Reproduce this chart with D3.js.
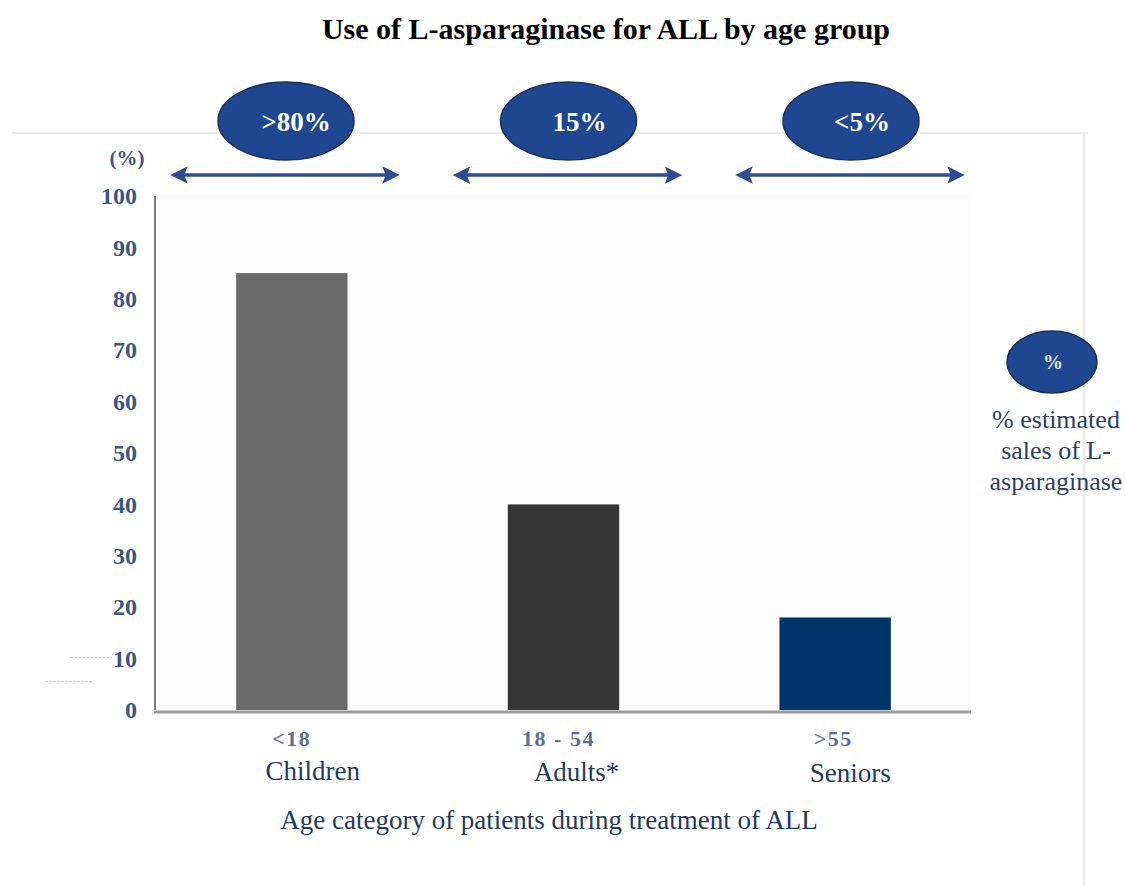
<!DOCTYPE html>
<html>
<head>
<meta charset="utf-8">
<script src="https://cdn.jsdelivr.net/npm/d3@7"></script>
<style>
  html, body { margin: 0; padding: 0; background: #fff; }
  svg { display: block; }
  svg text { font-family: "Liberation Serif", "Times New Roman", serif; }
</style>
</head>
<body>
<div id="chart"></div>
<script>
// data
const categories = ['Children', 'Adults*', 'Seniors'];
const ageRanges = ['<18', '18 - 54', '>55'];
const values = [85, 40, 18];
const salesShare = ['>80%', '15%', '<5%'];
const barColors = ['#6b6b6b', '#363636', '#00356a'];
const yTicks = [0, 10, 20, 30, 40, 50, 60, 70, 80, 90, 100];

const W = 1125, H = 886;
const margin = { top: 196, left: 156, bottom: 176, right: 154 };
const serif = '"Liberation Serif", "Times New Roman", serif';

const svg = d3.select('#chart').append('svg')
  .attr('width', W).attr('height', H);

const defs = svg.append('defs');
['start', 'end'].forEach(k => {
  defs.append('marker')
    .attr('id', 'arrow-' + k)
    .attr('viewBox', '0 0 10 10')
    .attr('refX', 5).attr('refY', 5)
    .attr('markerWidth', 5).attr('markerHeight', 5)
    .attr('markerUnits', 'strokeWidth')
    .attr('orient', k === 'start' ? 'auto-start-reverse' : 'auto')
    .append('path')
    .attr('d', 'M0,0 L10,5 L0,10 L2,5 Z')
    .attr('fill', '#2a4d94');
});

// faint outer panel
svg.append('line').attr('x1', 12).attr('x2', 1088).attr('y1', 133).attr('y2', 133)
  .attr('stroke', '#ececec').attr('stroke-width', 2);
svg.append('line').attr('x1', 1084).attr('x2', 1084).attr('y1', 133).attr('y2', H)
  .attr('stroke', '#ececec').attr('stroke-width', 3);

const x = d3.scaleBand()
  .domain(categories)
  .range([margin.left, W - margin.right])
  .paddingInner(0.59)
  .paddingOuter(0.295);

const y = d3.scaleLinear()
  .domain([0, 100])
  .range([H - margin.bottom, margin.top]);

// plot background
svg.append('rect')
  .attr('x', margin.left).attr('y', y(100) - 3)
  .attr('width', x.range()[1] - margin.left)
  .attr('height', y(0) - y(100) + 3)
  .attr('fill', '#fcfcfc');

// title
svg.append('text')
  .attr('x', 606).attr('y', 39)
  .attr('text-anchor', 'middle')
  .attr('font-size', 30).attr('font-weight', 'bold')
  .attr('fill', '#000')
  .text('Use of L-asparaginase for ALL by age group');

// y axis
const yAxis = svg.append('g')
  .attr('transform', `translate(${margin.left},0)`)
  .call(d3.axisLeft(y).tickValues(yTicks).tickSize(0).tickPadding(19));
yAxis.select('.domain').remove();
yAxis.selectAll('text')
  .attr('font-family', serif)
  .attr('font-size', 24).attr('font-weight', 'bold')
  .attr('fill', '#3a5684');

svg.append('line')
  .attr('x1', margin.left - 1).attr('x2', margin.left - 1)
  .attr('y1', y(100)).attr('y2', y(0))
  .attr('stroke', '#808080').attr('stroke-width', 2);

svg.append('text')
  .attr('x', 127).attr('y', 165)
  .attr('text-anchor', 'middle')
  .attr('font-size', 21).attr('font-weight', 'bold')
  .attr('fill', '#3a5684')
  .text('(%)');

// faint stray dashes near the 10 tick
svg.append('line').attr('x1', 70).attr('x2', 112).attr('y1', y(10) - 1).attr('y2', y(10) - 1)
  .attr('stroke', '#c8c8c8').attr('stroke-dasharray', '3,1');
svg.append('line').attr('x1', 45).attr('x2', 93).attr('y1', y(5.5)).attr('y2', y(5.5))
  .attr('stroke', '#c8c8c8').attr('stroke-dasharray', '3,1');

// bars
svg.selectAll('rect.bar')
  .data(categories)
  .join('rect')
  .attr('class', 'bar')
  .attr('x', d => x(d))
  .attr('y', (d, i) => y(values[i]))
  .attr('width', x.bandwidth())
  .attr('height', (d, i) => y(0) - y(values[i]))
  .attr('fill', (d, i) => barColors[i]);

// x axis baseline
svg.append('line')
  .attr('x1', margin.left - 2).attr('x2', x.range()[1])
  .attr('y1', y(0) + 2).attr('y2', y(0) + 2)
  .attr('stroke', '#9a9a9a').attr('stroke-width', 3);

// age range labels and group names
const xAxis = svg.append('g')
  .attr('transform', `translate(0,${y(0)})`)
  .call(d3.axisBottom(x).tickSize(0).tickPadding(0)
    .tickFormat((d, i) => ageRanges[i]));
xAxis.select('.domain').remove();
xAxis.selectAll('text')
  .attr('y', 36)
  .attr('dy', 0)
  .attr('dx', (d, i) => [0, -5, -2][i])
  .attr('font-family', serif)
  .attr('font-size', 22).attr('font-weight', 'bold')
  .attr('letter-spacing', 1.5)
  .attr('fill', '#5a6f92');

svg.selectAll('text.group')
  .data(categories)
  .join('text')
  .attr('class', 'group')
  .attr('x', (d, i) => x(d) + x.bandwidth() / 2 + [21, 13, 15][i])
  .attr('y', (d, i) => y(0) + [70, 71, 72][i])
  .attr('text-anchor', 'middle')
  .attr('font-size', 27)
  .attr('fill', '#1f3a60')
  .text(d => d);

svg.append('text')
  .attr('x', 549).attr('y', 829)
  .attr('text-anchor', 'middle')
  .attr('font-size', 27)
  .attr('fill', '#1f3a60')
  .text('Age category of patients during treatment of ALL');

// share annotations: arrows and ellipses
const ax = d3.scalePoint().domain(categories).range([285, 850]);

svg.selectAll('line.span')
  .data(categories)
  .join('line')
  .attr('class', 'span')
  .attr('x1', d => ax(d) - 106).attr('x2', d => ax(d) + 106)
  .attr('y1', 175).attr('y2', 175)
  .attr('stroke', '#2a4d94').attr('stroke-width', 3.5)
  .attr('marker-start', 'url(#arrow-start)')
  .attr('marker-end', 'url(#arrow-end)');

svg.selectAll('ellipse.share')
  .data(categories)
  .join('ellipse')
  .attr('class', 'share')
  .attr('cx', d => ax(d) + 1).attr('cy', 121)
  .attr('rx', 68).attr('ry', 39)
  .attr('fill', '#1f4690')
  .attr('stroke', '#1a2f55').attr('stroke-width', 1.5);

svg.selectAll('text.share')
  .data(categories)
  .join('text')
  .attr('class', 'share')
  .attr('x', (d, i) => ax(d) + [11, 12, 12][i])
  .attr('y', 131)
  .attr('text-anchor', 'middle')
  .attr('font-size', 27).attr('font-weight', 'bold')
  .attr('fill', '#fff')
  .text((d, i) => salesShare[i]);

// legend
svg.append('ellipse')
  .attr('cx', 1052).attr('cy', 362)
  .attr('rx', 45).attr('ry', 31)
  .attr('fill', '#1f4690')
  .attr('stroke', '#1a2f55').attr('stroke-width', 1.5);
svg.append('text')
  .attr('x', 1053).attr('y', 369)
  .attr('text-anchor', 'middle')
  .attr('font-size', 20).attr('font-weight', 'bold')
  .attr('fill', '#e6e9f0')
  .text('%');

const legendLines = ['% estimated', 'sales of L-', 'asparaginase'];
svg.selectAll('text.legend')
  .data(legendLines)
  .join('text')
  .attr('class', 'legend')
  .attr('x', 1056)
  .attr('y', (d, i) => 428 + i * 31)
  .attr('text-anchor', 'middle')
  .attr('font-size', 26)
  .attr('fill', '#2b3f63')
  .text(d => d);
</script>
</body>
</html>
